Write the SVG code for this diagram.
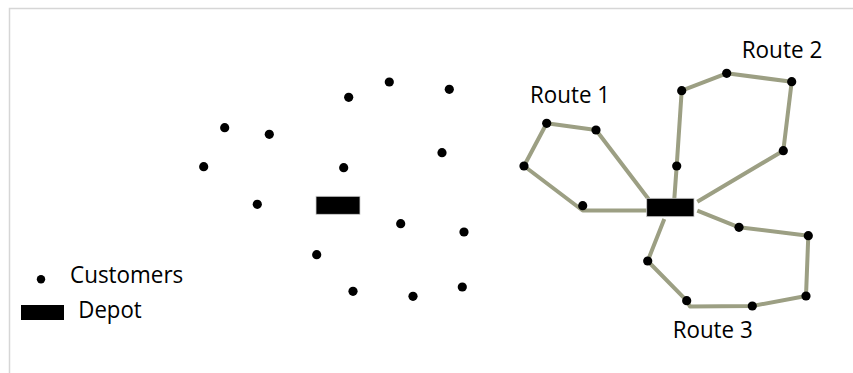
<svg xmlns="http://www.w3.org/2000/svg" width="853" height="373" viewBox="0 0 853 373">
  <style>
    .frame { stroke: #d6d6d6; stroke-width: 1.5; fill: none; }
    .cust { fill: #000; }
    .depot { fill: #000; stroke: #cfcfcf; stroke-width: 0.8; }
    .route { fill: none; stroke: #9c9f83; stroke-width: 4; stroke-linejoin: round; stroke-linecap: butt; }
    .label { font-family: "Open Sans", "Liberation Sans", sans-serif; font-size: 23.5px; fill: #000; }
  </style>
  <defs>
    <circle id="c" r="4.6" class="cust"/>
  </defs>

  <!-- frame lines -->
  <path class="frame" d="M9.5 373 V8.5 H853"/>

  <!-- left: unrouted customers around a depot -->
  <g id="unrouted-customers">
    <use href="#c" x="348.7" y="97.3"/>
    <use href="#c" x="389.3" y="82"/>
    <use href="#c" x="449.3" y="89.3"/>
    <use href="#c" x="224.7" y="127.7"/>
    <use href="#c" x="269.3" y="134.3"/>
    <use href="#c" x="442" y="152.7"/>
    <use href="#c" x="203.7" y="166.7"/>
    <use href="#c" x="343.7" y="167.7"/>
    <use href="#c" x="257.3" y="204.3"/>
    <use href="#c" x="400.7" y="223.7"/>
    <use href="#c" x="464" y="232"/>
    <use href="#c" x="316.7" y="254.7"/>
    <use href="#c" x="353" y="291.3"/>
    <use href="#c" x="413" y="296.3"/>
    <use href="#c" x="462.3" y="287"/>
  </g>
  <g id="depot-left">
    <rect class="depot" x="316" y="196.3" width="44" height="18"/>
  </g>

  <!-- right: three routes from the depot -->
  <g id="connectors">
    <polyline class="route" points="647,210.5 582.7,210.5 524,166 546.7,123.3 596,130 648.5,199"/>
    <polyline class="route" points="674.3,199 676.7,166 681.7,90.7 726.7,73.3 791.7,81.7 783.3,150.7 697.3,201.7"/>
    <polyline class="route" points="697.3,210.7 739,227.3 808.3,235.7 806,296 752.3,306 690,306.5 686.7,300.7 647.7,261 664.3,219"/>
  </g>

  <g id="route1-customers">
    <use href="#c" x="546.7" y="123.3"/>
    <use href="#c" x="596" y="130"/>
    <use href="#c" x="524" y="166"/>
    <use href="#c" x="582.7" y="205.7"/>
  </g>
  <g id="route2-customers">
    <use href="#c" x="681.7" y="90.7"/>
    <use href="#c" x="726.7" y="73.3"/>
    <use href="#c" x="791.7" y="81.7"/>
    <use href="#c" x="783.3" y="150.7"/>
    <use href="#c" x="676.7" y="166"/>
  </g>
  <g id="route3-customers">
    <use href="#c" x="739" y="227.3"/>
    <use href="#c" x="808.3" y="235.7"/>
    <use href="#c" x="806" y="296"/>
    <use href="#c" x="752.3" y="306"/>
    <use href="#c" x="686.7" y="300.7"/>
    <use href="#c" x="647.7" y="261"/>
  </g>
  <g id="depot-right">
    <rect class="depot" x="646.7" y="198.3" width="47.3" height="18.4"/>
  </g>

  <g id="route-labels">
    <text class="label" x="530" y="103" textLength="80" lengthAdjust="spacingAndGlyphs">Route 1</text>
    <text class="label" x="741.7" y="58.3" textLength="80.6" lengthAdjust="spacingAndGlyphs">Route 2</text>
    <text class="label" x="672.7" y="338.3" textLength="80" lengthAdjust="spacingAndGlyphs">Route 3</text>
  </g>

  <!-- legend -->
  <g id="legend-customers">
    <circle class="cust" cx="41" cy="279.3" r="4.2"/>
    <text class="label" x="70" y="283.3" textLength="113.3" lengthAdjust="spacingAndGlyphs">Customers</text>
  </g>
  <g id="legend-depot">
    <rect x="21" y="305" width="43" height="15" fill="#000"/>
    <text class="label" x="78.3" y="318.3" textLength="63.4" lengthAdjust="spacingAndGlyphs">Depot</text>
  </g>
</svg>
